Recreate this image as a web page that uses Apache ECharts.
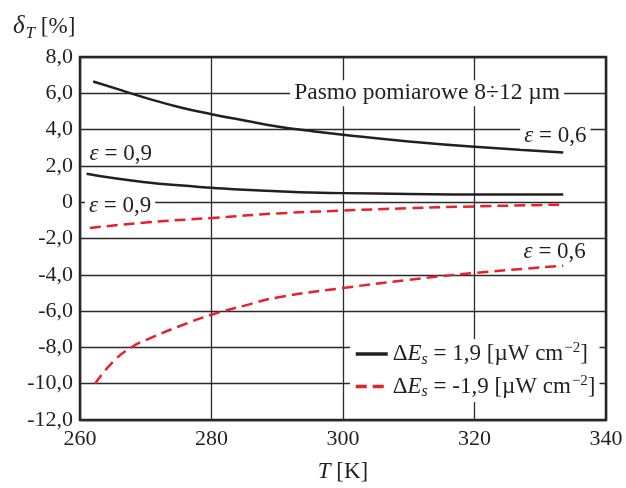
<!DOCTYPE html>
<html><head><meta charset="utf-8">
<script src="https://cdn.jsdelivr.net/npm/echarts@6/dist/echarts.min.js"></script>
<style>html,body{margin:0;padding:0;background:#fff}#c{width:626px;height:488px}</style>
</head><body><div id="c"></div>
<script>
// Temperatures [K] and deviations [%]
const tPos06 = [262, 266, 270, 275, 280, 285, 290, 295, 300, 310, 320, 333.5];
const vPos06 = [6.65, 6.2, 5.75, 5.25, 4.85, 4.5, 4.17, 3.93, 3.72, 3.35, 3.05, 2.74];
const tPos09 = [261, 265, 270, 275, 280, 285, 290, 295, 300, 310, 320, 333.5];
const vPos09 = [1.57, 1.33, 1.1, 0.93, 0.8, 0.68, 0.6, 0.53, 0.5, 0.45, 0.42, 0.42];
const tNeg09 = [261.5, 270, 280, 290, 300, 310, 320, 333.5];
const vNeg09 = [-1.42, -1.12, -0.87, -0.62, -0.46, -0.33, -0.23, -0.13];
const tNeg06 = [262.3, 265, 268, 270, 275, 280, 285, 290, 300, 310, 320, 333.5];
const vNeg06 = [-10.0, -8.8, -7.95, -7.6, -6.85, -6.2, -5.7, -5.25, -4.73, -4.28, -3.9, -3.5];
const xTicks = [260, 280, 300, 320, 340];
const yTicks = [-12, -10, -8, -6, -4, -2, 0, 2, 4, 6, 8];
const namePos = 'ΔEs = 1,9 [µW cm−2]';
const nameNeg = 'ΔEs = -1,9 [µW cm−2]';

const pairs = (t, v) => t.map((x, i) => [x, v[i]]);
const FONT = 'Liberation Serif';
const BLACK = '#231f20', RED = '#e8202a';
const lab = (txt, coord, bg, fs) => ({
  coord: coord, symbol: 'circle', symbolSize: 0,
  label: { show: true, position: 'inside', formatter: txt, fontFamily: FONT, fontSize: fs || 23, color: BLACK,
    backgroundColor: bg ? '#fff' : 'transparent', padding: [1, 4, 1, 4],
    rich: { i: { fontStyle: 'italic', fontFamily: FONT, fontSize: fs || 23, color: BLACK } } }
});

const chart = echarts.init(document.getElementById('c'), null, { renderer: 'canvas' });
chart.setOption({
  animation: false,
  backgroundColor: '#fff',
  title: {
    left: 8, top: 6,
    text: '{d|δ}{s|T}{n| [%]}',
    textStyle: { fontWeight: 'normal', rich: {
      d: { fontFamily: FONT, fontStyle: 'italic', fontWeight: 'normal', fontSize: 25, color: BLACK },
      s: { fontFamily: FONT, fontStyle: 'italic', fontWeight: 'normal', fontSize: 17, color: BLACK, padding: [14, 0, 0, 1] },
      n: { fontFamily: FONT, fontWeight: 'normal', fontSize: 23, color: BLACK }
    } }
  },
  grid: { left: 80, right: 20, top: 57, bottom: 65, show: true, borderColor: BLACK, borderWidth: 2.5, backgroundColor: 'transparent' },
  xAxis: {
    type: 'value', min: 260, max: 340, interval: 20,
    name: '{i|T} [K]', nameLocation: 'middle', nameGap: 40,
    nameTextStyle: { fontFamily: FONT, fontSize: 23, color: BLACK, rich: {
      i: { fontFamily: FONT, fontStyle: 'italic', fontSize: 23, color: BLACK },
      n: { fontFamily: FONT, fontSize: 23, color: BLACK } } },
    axisLine: { show: false, onZero: false }, axisTick: { show: false },
    axisLabel: { fontFamily: FONT, fontSize: 22, color: BLACK, margin: 8, formatter: v => xTicks.includes(v) ? String(v) : '' },
    splitLine: { show: true, lineStyle: { color: '#2b2b2b', width: 1.3 } }
  },
  yAxis: {
    type: 'value', min: -12, max: 8, interval: 2,
    axisLine: { show: false }, axisTick: { show: false },
    axisLabel: { fontFamily: FONT, fontSize: 22, color: BLACK, margin: 7, padding: [5, 0, 0, 0],
      formatter: v => yTicks.includes(v) ? (v === 0 ? '0' : v.toFixed(1).replace('.', ',')) : '' },
    splitLine: { show: true, lineStyle: { color: '#2b2b2b', width: 1.3 } }
  },
  legend: {
    orient: 'vertical', left: 350, top: 339, itemWidth: 32, itemHeight: 12, itemGap: 6,
    backgroundColor: '#fff', padding: [2, 4, 2, 4],
    itemStyle: { opacity: 0 },
    lineStyle: { width: 3.5 },
    data: [namePos, nameNeg],
    formatter: n => n === namePos
      ? '{n|Δ}{i|E}{sub|s}{n| = 1,9 [µW cm}{sup|−2}{n|]}'
      : '{n|Δ}{i|E}{sub|s}{n| = -1,9 [µW cm}{sup|−2}{n|]}',
    textStyle: { fontFamily: FONT, fontSize: 23, color: BLACK, rich: {
      n: { fontFamily: FONT, fontSize: 23, color: BLACK },
      i: { fontFamily: FONT, fontStyle: 'italic', fontSize: 23, color: BLACK },
      sub: { fontFamily: FONT, fontStyle: 'italic', fontSize: 16, color: BLACK, padding: [11, 0, 0, 0] },
      sup: { fontFamily: FONT, fontSize: 15, color: BLACK, padding: [0, 0, 11, 1] }
    } }
  },
  series: [
    { name: namePos, type: 'line', smooth: true, symbol: 'none', data: pairs(tPos06, vPos06),
      lineStyle: { color: BLACK, width: 2.5 }, itemStyle: { color: BLACK },
      markPoint: { data: [ lab('Pasmo pomiarowe 8÷12 µm', [312.8, 6.0], true, 23.5), lab('{i|ε} = 0,6', [332.3, 3.64], true) ] } },
    { name: namePos, type: 'line', smooth: true, symbol: 'none', data: pairs(tPos09, vPos09),
      lineStyle: { color: BLACK, width: 2.5 }, itemStyle: { color: BLACK },
      markPoint: { data: [ lab('{i|ε} = 0,9', [266.2, 2.64], false) ] } },
    { name: nameNeg, type: 'line', smooth: true, symbol: 'none', data: pairs(tNeg09, vNeg09),
      lineStyle: { color: RED, width: 2.5, type: [11, 6] }, itemStyle: { color: RED },
      markPoint: { data: [ lab('{i|ε} = 0,9', [266.1, -0.21], true) ] } },
    { name: nameNeg, type: 'line', smooth: true, symbol: 'none', data: pairs(tNeg06, vNeg06),
      lineStyle: { color: RED, width: 2.5, type: [11, 6] }, itemStyle: { color: RED },
      markPoint: { data: [ lab('{i|ε} = 0,6', [332.2, -2.73], false) ] } }
  ]
});
</script></body></html>
